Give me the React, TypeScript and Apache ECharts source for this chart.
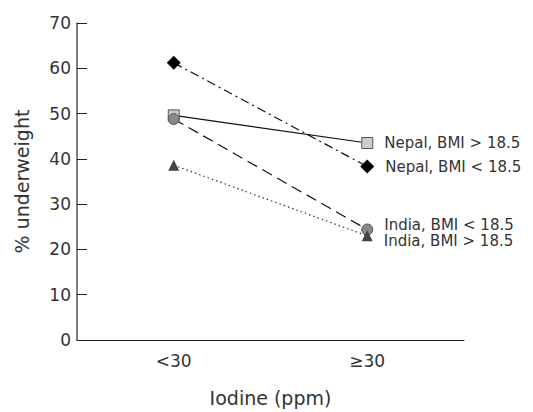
import React, { useEffect, useRef } from "react";
import * as echarts from "echarts";

const categories = ["<30", "≥30"];
const nepalLow = [61.2, 38.3];
const nepalHigh = [49.6, 43.5];
const indiaLow = [48.8, 24.4];
const indiaHigh = [38.6, 23.0];
const yTicks = { min: 0, max: 70, interval: 10 };

const FONT = "'DejaVu Sans', 'Open Sans', sans-serif";

function lastLabel(text: string, dy: number) {
  return {
    show: true,
    position: "right" as const,
    distance: 11,
    offset: [0, dy],
    formatter: text,
    color: "#333",
    fontSize: 15,
    lineHeight: 15,
    fontFamily: FONT,
  };
}

function makeData(values: number[], text: string, dy: number) {
  return values.map((v, i) =>
    i === values.length - 1 ? { value: v, label: lastLabel(text, dy) } : { value: v }
  );
}

export default function App() {
  const ref = useRef<HTMLDivElement>(null);
  useEffect(() => {
    if (!ref.current) return;
    const chart = echarts.init(ref.current, null, { renderer: "svg" });
    chart.setOption({
      animation: false,
      backgroundColor: "#fff",
      grid: { left: 77, right: 69, top: 23, bottom: 71 },
      xAxis: {
        type: "category",
        data: categories,
        boundaryGap: true,
        name: "Iodine (ppm)",
        nameLocation: "middle",
        nameGap: 48,
        nameTextStyle: { color: "#333", fontSize: 19, fontFamily: FONT },
        axisLine: { lineStyle: { color: "#222", width: 1 } },
        axisTick: { show: false },
        axisLabel: { color: "#333", fontSize: 17, fontFamily: FONT, margin: 12 },
        splitLine: { show: false },
      },
      yAxis: {
        type: "value",
        min: yTicks.min,
        max: yTicks.max,
        interval: yTicks.interval,
        name: "% underweight",
        nameLocation: "middle",
        nameGap: 46,
        nameTextStyle: { color: "#333", fontSize: 19, fontFamily: FONT },
        axisLine: { show: true, lineStyle: { color: "#555", width: 1.5 } },
        axisTick: { show: true, inside: true, length: 10, lineStyle: { color: "#222" } },
        axisLabel: { color: "#333", fontSize: 17, fontFamily: FONT, margin: 6 },
        splitLine: { show: false },
      },
      series: [
        {
          name: "Nepal, BMI > 18.5",
          type: "line",
          data: makeData(nepalHigh, "Nepal, BMI > 18.5", 0),
          symbol: "rect",
          symbolSize: 11,
          lineStyle: { color: "#111", width: 1.2, type: "solid" },
          itemStyle: { color: "#ccc", borderColor: "#555", borderWidth: 1 },
          z: 3,
        },
        {
          name: "Nepal, BMI < 18.5",
          type: "line",
          data: makeData(nepalLow, "Nepal, BMI < 18.5", 0),
          symbol: "diamond",
          symbolSize: 14,
          lineStyle: { color: "#111", width: 1.2, type: [9, 4, 2, 4] },
          itemStyle: { color: "#000", borderColor: "#000", borderWidth: 0 },
          z: 4,
        },
        {
          name: "India, BMI < 18.5",
          type: "line",
          data: makeData(indiaLow, "India, BMI < 18.5", -5),
          symbol: "circle",
          symbolSize: 11,
          lineStyle: { color: "#111", width: 1.2, type: [11, 6] },
          itemStyle: { color: "#888", borderColor: "#555", borderWidth: 1 },
          z: 3,
        },
        {
          name: "India, BMI > 18.5",
          type: "line",
          data: makeData(indiaHigh, "India, BMI > 18.5", 5),
          symbol: "triangle",
          symbolSize: 11,
          lineStyle: { color: "#333", width: 1.2, type: [1.5, 3] },
          itemStyle: { color: "#444", borderColor: "#444", borderWidth: 0 },
          z: 5,
        },
      ],
    });
    return () => chart.dispose();
  }, []);
  return <div ref={ref} style={{ width: 533, height: 412, position: "absolute", left: 0, top: 0 }} />;
}
